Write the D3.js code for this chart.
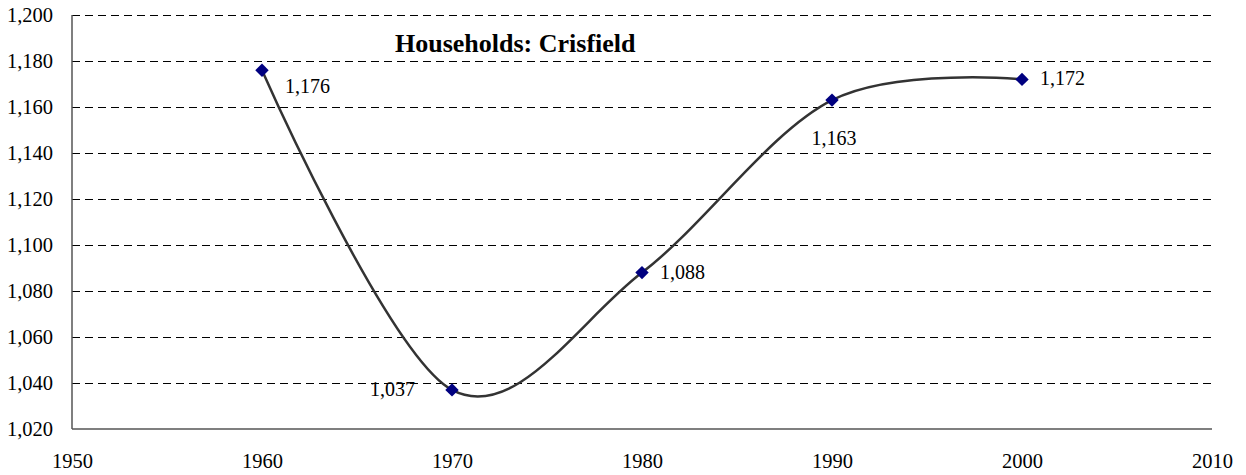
<!DOCTYPE html>
<html>
<head>
<meta charset="utf-8">
<script src="https://cdn.jsdelivr.net/npm/d3@7"></script>
<style>
  body { margin: 0; background: #fff; }
  text { font-family: "Liberation Serif", "Times New Roman", serif; fill: #000; }
</style>
</head>
<body>
<div id="chart"></div>
<script>
// data
var years = [1960, 1970, 1980, 1990, 2000];
var households = [1176, 1037, 1088, 1163, 1172];
var labelPos = ["below-right", "left", "right", "below", "right"];
var yTicks = [1020, 1040, 1060, 1080, 1100, 1120, 1140, 1160, 1180, 1200];
var xTicks = [1950, 1960, 1970, 1980, 1990, 2000, 2010];
var title = "Households: Crisfield";

var W = 1246, H = 475;
var margin = {top: 15, right: 34, bottom: 46, left: 72};
var width = W - margin.left - margin.right,
    height = H - margin.top - margin.bottom;

var x = d3.scaleLinear().domain([1950, 2010]).range([0, width]);
var y = d3.scaleLinear().domain([1020, 1200]).range([height, 0]);

var svg = d3.select("#chart").append("svg")
    .attr("width", W)
    .attr("height", H)
  .append("g")
    .attr("transform", "translate(" + margin.left + "," + margin.top + ")");

// gridlines
svg.selectAll(".grid")
    .data(yTicks.slice(1))
    .enter().append("line")
    .attr("class", "grid")
    .attr("x1", 0)
    .attr("x2", width)
    .attr("y1", function(d) { return Math.round(y(d)) + 0.5; })
    .attr("y2", function(d) { return Math.round(y(d)) + 0.5; })
    .attr("stroke", "#000")
    .attr("stroke-width", 1)
    .attr("stroke-dasharray", "8,5");

// axes
var yAxis = svg.append("g")
    .call(d3.axisLeft(y).tickValues(yTicks).tickSize(0).tickPadding(19).tickFormat(d3.format(",")));
var xAxis = svg.append("g")
    .attr("transform", "translate(0," + height + ")")
    .call(d3.axisBottom(x).tickValues(xTicks).tickSize(0).tickPadding(24).tickFormat(d3.format("d")));

[yAxis, xAxis].forEach(function(a) {
  a.select(".domain").attr("stroke", "#555").attr("stroke-width", 1.5);
  a.selectAll("text").style("font-size", "20.5px").attr("fill", "#000");
});
xAxis.select(".domain").attr("d", "M0,0H" + width);
yAxis.select(".domain").attr("d", "M0," + height + "V0");

// smoothed line
var pts = years.map(function(d, i) { return {year: d, value: households[i], pos: labelPos[i]}; });

var line = d3.line()
    .x(function(d) { return x(d.year); })
    .y(function(d) { return y(d.value); })
    .curve(d3.curveCardinal.tension(0));

svg.append("path")
    .datum(pts)
    .attr("d", line)
    .attr("fill", "none")
    .attr("stroke", "#333")
    .attr("stroke-width", 2.5);

// markers
svg.selectAll(".pt")
    .data(pts)
    .enter().append("path")
    .attr("class", "pt")
    .attr("d", d3.symbol().type(d3.symbolDiamond2).size(115))
    .attr("transform", function(d) { return "translate(" + x(d.year) + "," + y(d.value) + ")"; })
    .attr("fill", "#000080");

// value labels
var fmt = d3.format(",");
svg.selectAll(".lbl")
    .data(pts)
    .enter().append("text")
    .attr("class", "lbl")
    .style("font-size", "20px")
    .attr("x", function(d) {
      var px = x(d.year);
      if (d.pos == "left") return px - 37;
      if (d.pos == "below") return px + 2;
      if (d.pos == "below-right") return px + 23;
      return px + 18;
    })
    .attr("y", function(d) {
      var py = y(d.value);
      if (d.pos == "below-right") return py + 23;
      if (d.pos == "below") return py + 45;
      return py + 6;
    })
    .attr("text-anchor", function(d) {
      if (d.pos == "left") return "end";
      if (d.pos == "below") return "middle";
      return "start";
    })
    .text(function(d) { return fmt(d.value); });

// title
svg.append("text")
    .attr("x", 395 - margin.left)
    .attr("y", 52 - margin.top)
    .style("font-size", "26px")
    .style("font-weight", "bold")
    .text(title);
</script>
</body>
</html>
